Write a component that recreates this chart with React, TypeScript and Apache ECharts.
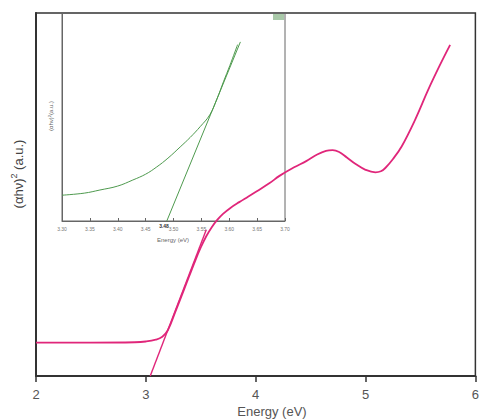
import React, { useEffect, useRef } from "react";
import * as echarts from "echarts";

// Main chart: Tauc plot (pink)
const mainEnergy = [2.0, 2.5, 2.9, 3.0, 3.09, 3.15, 3.2, 3.27, 3.35, 3.45, 3.5, 3.55, 3.6, 3.65, 3.7, 3.77, 3.85, 3.93, 4.01, 4.12, 4.22, 4.35, 4.46, 4.56, 4.64, 4.7, 4.76, 4.83, 4.91, 5.0, 5.09, 5.14, 5.18, 5.25, 5.33, 5.45, 5.57, 5.67, 5.77];
const mainValue = [9.2, 9.2, 9.3, 9.5, 10.0, 10.8, 12.6, 17.8, 24.0, 31.8, 35.4, 38.5, 41.0, 43.0, 44.6, 46.3, 47.9, 49.4, 50.9, 53.0, 55.2, 57.5, 59.2, 61.0, 62.0, 62.2, 61.7, 60.2, 58.4, 56.8, 56.1, 56.4, 57.3, 59.8, 63.3, 70.5, 78.8, 85.2, 91.2];
const mainTangentX = [3.04, 3.55];
const mainTangentY = [0, 40.3];
const mainTicks = [2, 3, 4, 5, 6];

// Inset: zoomed edge (green)
const insetEnergy = [3.3, 3.34, 3.368, 3.4, 3.427, 3.45, 3.47, 3.49, 3.512, 3.53, 3.548, 3.565, 3.578, 3.59, 3.601, 3.615];
const insetValue = [12.4, 13.4, 14.9, 16.8, 19.7, 22.5, 26.0, 30.2, 35.6, 40.2, 45.4, 51.0, 58.7, 67.2, 74.7, 84.8];
const insetTangentX = [3.488, 3.62];
const insetTangentY = [0, 86.1];
const insetTickLabels = ["3.30", "3.35", "3.40", "3.45", "3.50", "3.55", "3.60", "3.65", "3.70"];
const bandGapLabel = "3.48";

const FONT = "'Liberation Sans', Arial, sans-serif";
const PINK = "#e0267a";
const GREEN = "#4e9a4e";

export default function App() {
  const ref = useRef<HTMLDivElement>(null);
  useEffect(() => {
    if (!ref.current) return;
    const chart = echarts.init(ref.current, null, { renderer: "svg" });
    const pair = (xs: number[], ys: number[]) => xs.map((x, i) => [x, ys[i]]);
    chart.setOption({
      animation: false,
      backgroundColor: "#fff",
      grid: [
        { left: 36, top: 13, right: 1, bottom: 44, show: true, borderColor: "#333", borderWidth: 1.5 },
        { left: 62, top: 13, right: 197, bottom: 199, show: true, borderColor: "#666", borderWidth: 1 },
      ],
      xAxis: [
        {
          gridIndex: 0, type: "value", min: 2, max: 6, interval: 1,
          axisLine: { lineStyle: { color: "#333", width: 2 } },
          axisTick: { show: true, inside: false, length: 6, lineStyle: { color: "#333", width: 1.5 } },
          axisLabel: { color: "#555", fontSize: 13, fontFamily: FONT, margin: 12,
            formatter: (v: number) => (mainTicks.includes(v) ? String(v) : "") },
          splitLine: { show: false },
        },
        {
          gridIndex: 1, type: "value", min: 3.3, max: 3.7, interval: 0.05,
          axisLine: { lineStyle: { color: "#666", width: 1 } },
          axisTick: { show: true, inside: true, length: 3, lineStyle: { color: "#666" } },
          axisLabel: { color: "#777", fontSize: 5, fontFamily: FONT, margin: 5,
            formatter: (v: number) => {
              const s = v.toFixed(2);
              return insetTickLabels.includes(s) ? s : "";
            } },
          splitLine: { show: false },
        },
      ],
      yAxis: [
        {
          gridIndex: 0, type: "value", min: 0, max: 100,
          axisLine: { show: true, lineStyle: { color: "#333", width: 2 } },
          axisTick: { show: false }, axisLabel: { show: false }, splitLine: { show: false },
        },
        {
          gridIndex: 1, type: "value", min: 0, max: 100,
          axisLine: { show: true, lineStyle: { color: "#666", width: 1 } },
          axisTick: { show: false }, axisLabel: { show: false }, splitLine: { show: false },
        },
      ],
      series: [
        {
          type: "line", xAxisIndex: 0, yAxisIndex: 0, data: pair(mainEnergy, mainValue),
          smooth: 0.4, showSymbol: false, lineStyle: { color: PINK, width: 1.8 }, z: 5,
        },
        {
          type: "line", xAxisIndex: 0, yAxisIndex: 0, data: pair(mainTangentX, mainTangentY),
          showSymbol: false, lineStyle: { color: PINK, width: 1.4 }, z: 5,
        },
        {
          type: "line", xAxisIndex: 1, yAxisIndex: 1, data: pair(insetEnergy, insetValue),
          smooth: 0.4, showSymbol: false, lineStyle: { color: GREEN, width: 1 },
        },
        {
          type: "line", xAxisIndex: 1, yAxisIndex: 1, data: pair(insetTangentX, insetTangentY),
          showSymbol: false, lineStyle: { color: GREEN, width: 1 },
        },
      ],
      graphic: [
        {
          type: "text", x: 18, y: 174, rotation: Math.PI / 2, z: 10,
          style: {
            text: "{a|(αhν)}{s|2}{a| (a.u.)}",
            align: "center", verticalAlign: "middle",
            rich: {
              a: { fontSize: 13, fontFamily: FONT, fill: "#444" },
              s: { fontSize: 9, fontFamily: FONT, fill: "#444", padding: [0, 0, 9, 0] },
            },
          },
        },
        {
          type: "text", x: 272, y: 411, z: 10,
          style: { text: "Energy (eV)", fontSize: 13, fontFamily: FONT, fill: "#555", align: "center", verticalAlign: "middle" },
        },
        {
          type: "text", x: 51, y: 116, rotation: Math.PI / 2, z: 10,
          style: {
            text: "{a|(αhν)}{s|2}{a|(a.u.)}",
            align: "center", verticalAlign: "middle",
            rich: {
              a: { fontSize: 6, fontFamily: FONT, fill: "#666" },
              s: { fontSize: 4, fontFamily: FONT, fill: "#666", padding: [0, 0, 3, 0] },
            },
          },
        },
        {
          type: "text", x: 173, y: 240, z: 10,
          style: { text: "Energy (eV)", fontSize: 6, fontFamily: FONT, fill: "#666", align: "center", verticalAlign: "middle" },
        },
        {
          type: "text", x: 164, y: 226, z: 10,
          style: { text: bandGapLabel, fontSize: 5, fontWeight: "bold", fontFamily: FONT, fill: "#333", align: "center", verticalAlign: "middle" },
        },
        {
          type: "rect", shape: { x: 273, y: 14, width: 11, height: 6 }, z: 10,
          style: { fill: "#a9c9a9" },
        },
      ],
    });
    return () => chart.dispose();
  }, []);
  return (
    <div
      ref={ref}
      style={{ position: "fixed", left: 0, top: 0, width: 482, height: 420 }}
    />
  );
}
